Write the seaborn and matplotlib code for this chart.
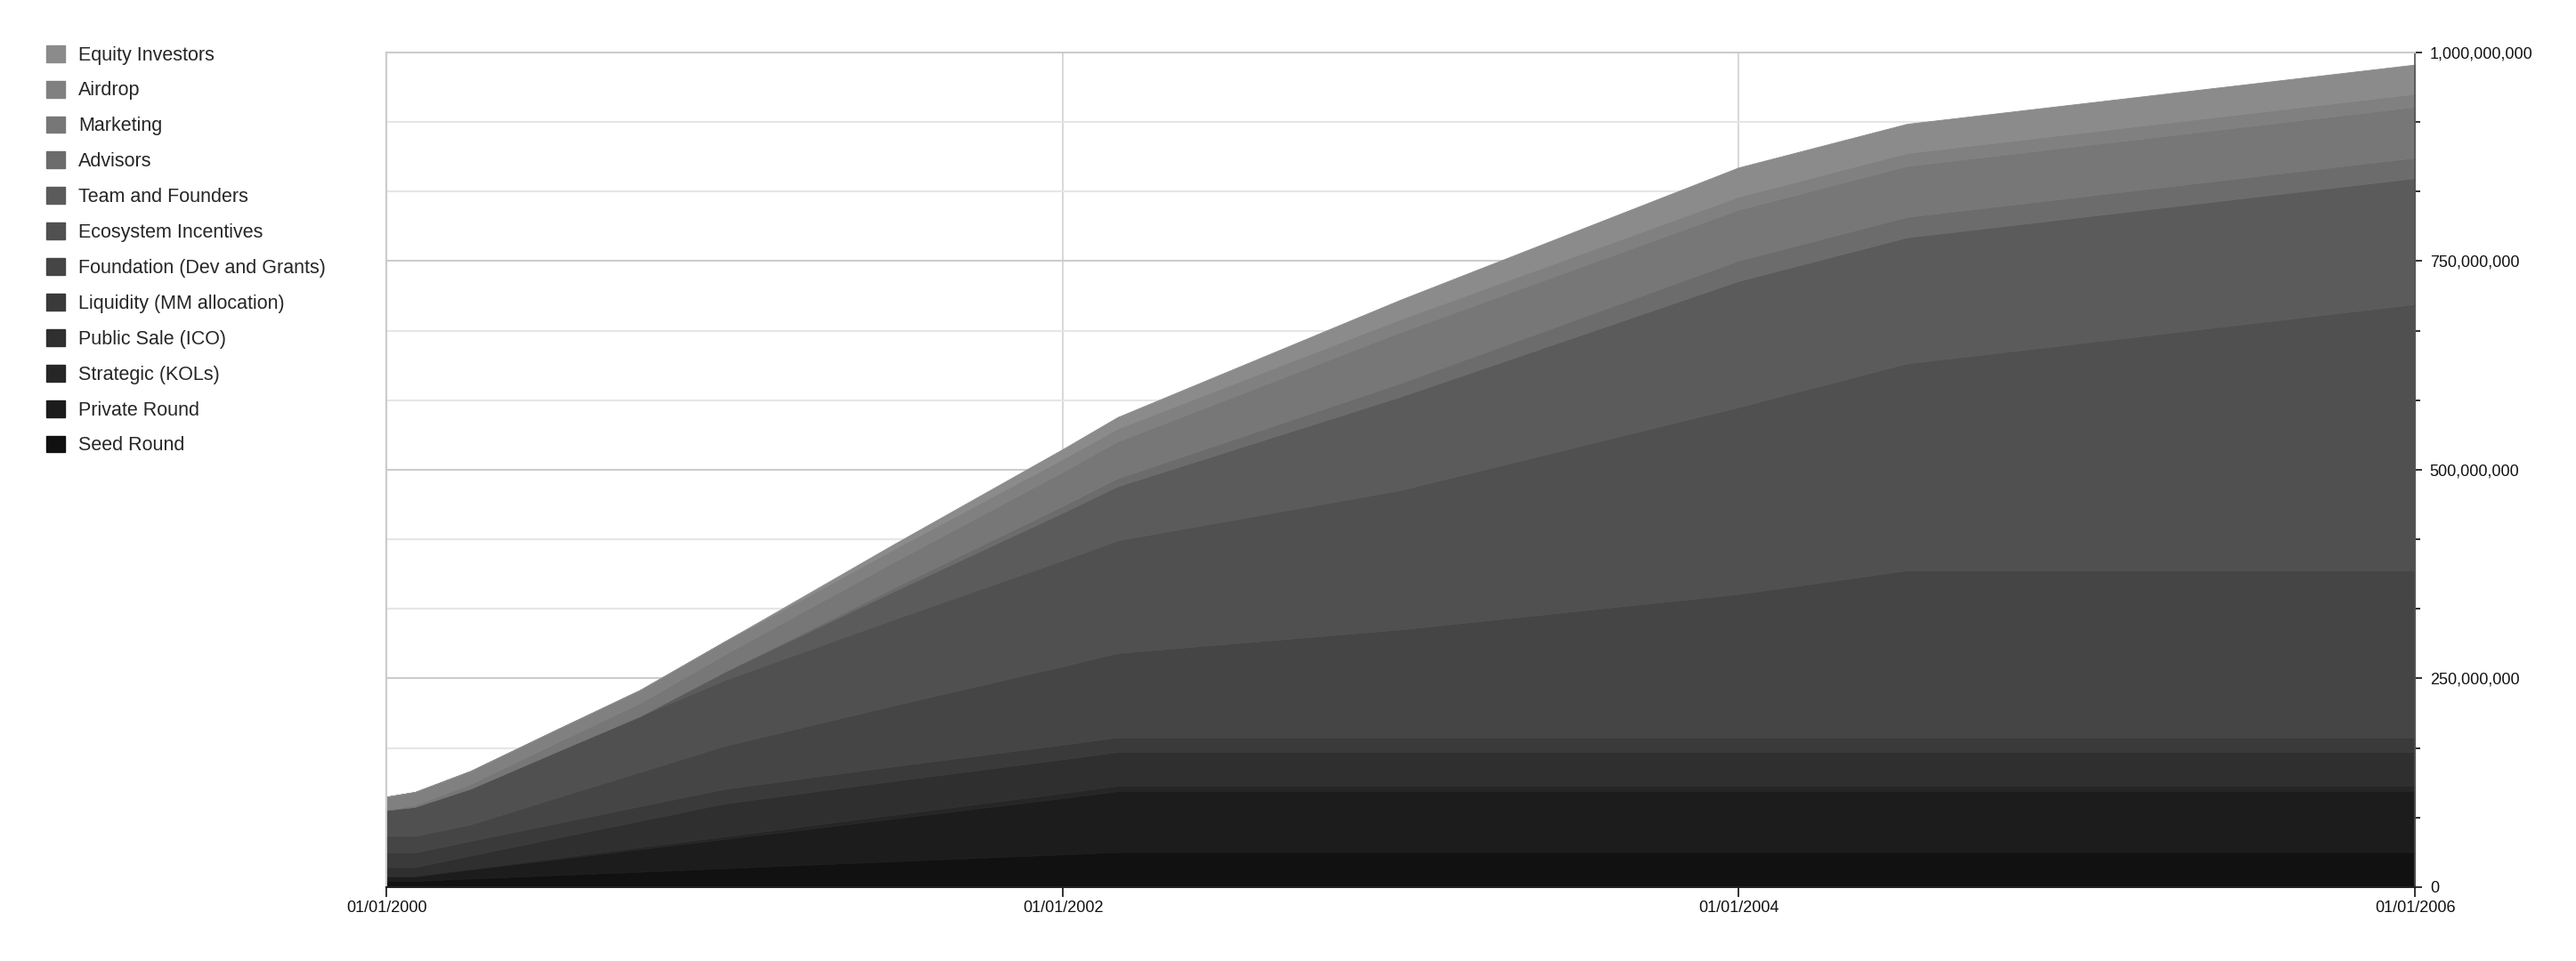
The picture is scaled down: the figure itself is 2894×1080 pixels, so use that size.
import matplotlib
matplotlib.use("Agg")
import matplotlib.pyplot as plt
import matplotlib.dates as mdates
from matplotlib.patches import Patch
from matplotlib.ticker import FixedLocator, FuncFormatter
import pandas as pd
import seaborn as sns

# dates where the unlock curves bend
dates = pd.to_datetime([
    "2000-01-01", "2000-02-01", "2000-04-01", "2000-07-01", "2000-10-01",
    "2001-01-01", "2001-07-01", "2002-01-01", "2002-03-01", "2003-01-01",
    "2004-01-01", "2004-07-01", "2006-01-01",
])

# unlocked tokens, millions (bottom of the stack first)
seed_round = [7.5, 7.5, 10.3, 14.4, 18.5, 22.7, 31, 39.2, 42, 42, 42, 42, 42]
private_round = [5.3, 5.3, 10.7, 18.8, 27, 35, 51, 67.5, 73, 73, 73, 73, 73]
strategic = [0.5, 0.5, 1, 1.7, 2.4, 3.1, 4.6, 6, 6.5, 6.5, 6.5, 6.5, 6.5]
public_sale = [10.7, 10.7, 15.9, 23.8, 31.6, 39.5, 40.5, 40.5, 40.5, 40.5, 40.5, 40.5, 40.5]
liquidity = [17.5, 17.5, 17.5, 17.5, 17.5, 17.5, 17.5, 17.5, 17.5, 17.5, 17.5, 17.5, 17.5]
foundation = [19.8, 19.8, 19.8, 30.4, 41, 51.6, 72.8, 94, 101, 129.3, 171.7, 200, 200]
ecosystem = [31, 35, 43, 55, 67, 79, 103, 127, 135, 167, 224, 248, 319]
team = [0, 0, 0, 0, 0, 10, 33.5, 57, 64.8, 112, 151, 151, 151]
advisors = [0, 0, 0, 0, 0, 0, 4.1, 8.2, 9.5, 16.3, 24.5, 24.5, 24.5]
marketing = [0.5, 2.2, 5.5, 10.6, 15.6, 20.7, 30.8, 40.8, 44.2, 61, 61, 61, 61]
airdrop = [15.5, 15.5, 15.5, 15.5, 15.5, 15.5, 15.5, 15.5, 15.5, 15.5, 15.5, 15.5, 15.5]
equity = [0, 0, 0, 0, 0, 0, 5.8, 11.7, 13.6, 23.3, 35, 35, 35]

labels = ["Seed Round", "Private Round", "Strategic (KOLs)", "Public Sale (ICO)",
          "Liquidity (MM allocation)", "Foundation (Dev and Grants)",
          "Ecosystem Incentives", "Team and Founders", "Advisors", "Marketing",
          "Airdrop", "Equity Investors"]
series = [seed_round, private_round, strategic, public_sale, liquidity, foundation,
          ecosystem, team, advisors, marketing, airdrop, equity]
colors = ["#111111", "#1c1c1c", "#262626", "#2f2f2f", "#3a3a3a", "#454545",
          "#505050", "#5b5b5b", "#6c6c6c", "#777777", "#808080", "#8b8b8b"]

sns.set_theme(style="white")
plt.rcParams["font.family"] = ["Liberation Sans", "DejaVu Sans"]

fig = plt.figure(figsize=(28.94, 10.8), dpi=100)
ax = fig.add_axes([0.15, 0.0769, 0.7875, 0.8685])

polys = ax.stackplot(dates, *[[v * 1e6 for v in s] for s in series], colors=colors)
for p, c in zip(polys, colors):
    p.set_edgecolor(c)
    p.set_linewidth(0.6)

ax.set_xlim(pd.Timestamp("2000-01-01"), pd.Timestamp("2006-01-01"))
ax.set_ylim(0, 1e9)

# axis on the right
ax.yaxis.tick_right()
ax.yaxis.set_major_locator(FixedLocator([0, 250e6, 500e6, 750e6, 1e9]))
ax.yaxis.set_minor_locator(FixedLocator([i * 1e9 / 12 for i in range(13) if i % 3]))
ax.yaxis.set_major_formatter(FuncFormatter(lambda v, p: f"{v:,.0f}"))
ax.xaxis.set_major_locator(FixedLocator(mdates.date2num(pd.to_datetime(
    ["2000-01-01", "2002-01-01", "2004-01-01", "2006-01-01"]))))
ax.xaxis.set_major_formatter(mdates.DateFormatter("%m/%d/%Y"))

ax.tick_params(axis="y", which="major", direction="inout", length=12, width=1.3,
               color="#222222", labelsize=13, pad=6, labelcolor="#111111")
ax.tick_params(axis="y", which="minor", direction="inout", length=8, width=1.3,
               color="#222222", right=True, left=False)
ax.tick_params(axis="x", which="major", direction="out", length=8, width=1.3,
               color="#222222", labelsize=13, pad=3, bottom=True, labelcolor="#111111")

ax.set_axisbelow(True)
ax.grid(axis="y", which="major", color="#cccccc", linewidth=1.5)
ax.grid(axis="y", which="minor", color="#e6e6e6", linewidth=1.5)
ax.grid(axis="x", which="major", color="#d9d9d9", linewidth=1.5)

ax.spines["left"].set_color("#cccccc")
ax.spines["left"].set_linewidth(1.5)
ax.spines["top"].set_color("#cccccc")
ax.spines["top"].set_linewidth(1.5)
ax.spines["right"].set_color("#555555")
ax.spines["right"].set_linewidth(1.2)
ax.spines["bottom"].set_color("#222222")
ax.spines["bottom"].set_linewidth(1.5)

handles = [Patch(facecolor=c, edgecolor=c) for c in colors][::-1]
fig.legend(handles, labels[::-1], loc="upper left", bbox_to_anchor=(0.0179, 0.953),
           frameon=False, fontsize=15.5, handlelength=1.0, handleheight=0.97,
           handletextpad=0.69, labelspacing=0.84, borderaxespad=0, borderpad=0)

fig.savefig("out.png", dpi=100)
